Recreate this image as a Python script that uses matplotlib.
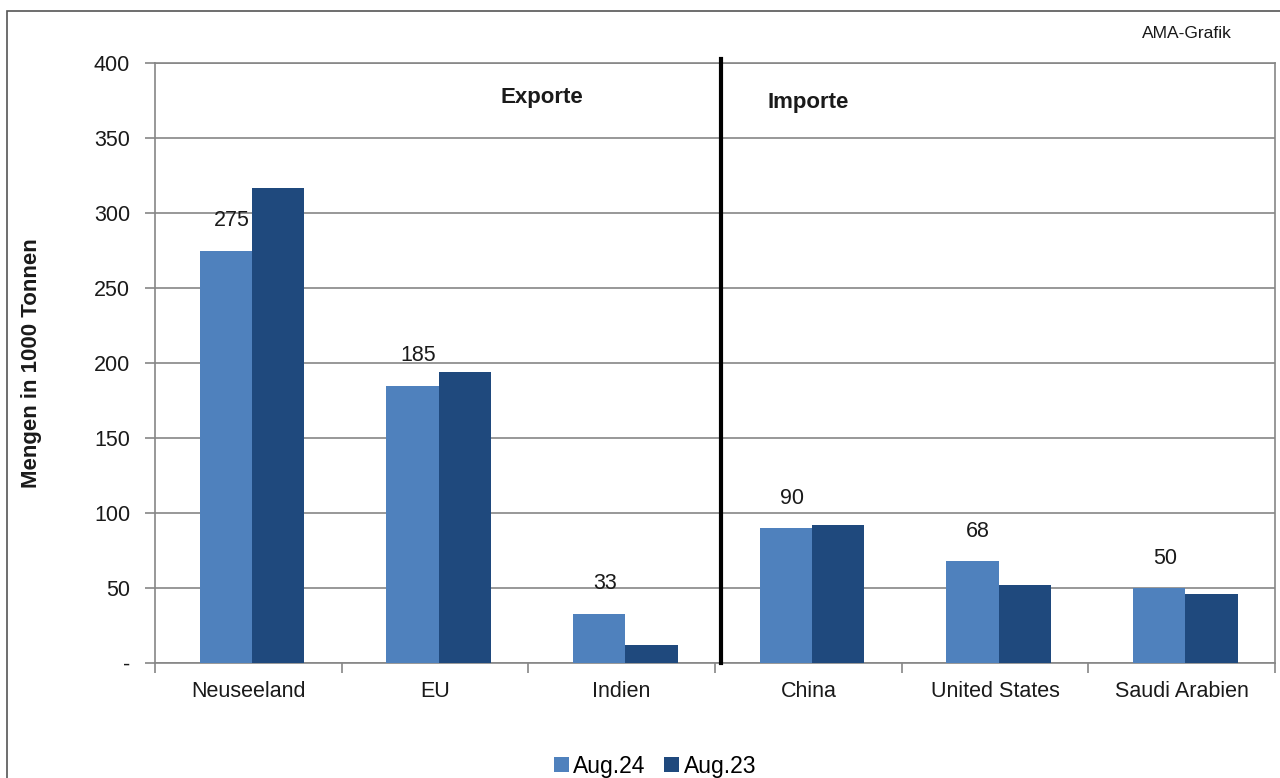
import numpy as np
import matplotlib.pyplot as plt
from matplotlib.patches import Rectangle

plt.rcParams['font.family'] = ['Liberation Sans', 'DejaVu Sans']

# data (1000 t)
laender = ["Neuseeland", "EU", "Indien", "China", "United States", "Saudi Arabien"]
aug24 = [275, 185, 33, 90, 68, 50]
aug23 = [317, 194, 12, 92, 52, 46]
serien = ["Aug.24", "Aug.23"]
y_ticks = [0, 50, 100, 150, 200, 250, 300, 350, 400]
y_tick_labels = ["-", "50", "100", "150", "200", "250", "300", "350", "400"]

hell = "#4F81BD"
dunkel = "#1F497D"
grau = "#868686"
text_farbe = "#1a1a1a"

fig = plt.figure(figsize=(12.8, 7.78), dpi=100)
ax = fig.add_axes([155 / 1280, 1 - 663 / 778, 1120 / 1280, 600 / 778])

# outer chart frame
fig.patches.append(Rectangle((7 / 1280, -0.05), 1.2, 1 - 11 / 778 + 0.05,
                             transform=fig.transFigure, fill=False,
                             edgecolor="#555555", linewidth=1.2))

x = np.arange(len(laender)) + 0.02
b = 0.28
bars24 = ax.bar(x - b / 2, aug24, b, color=hell, label=serien[0], zorder=3)
bars23 = ax.bar(x + b / 2, aug23, b, color=dunkel, label=serien[1], zorder=3)

for rect, val in zip(bars24, aug24):
    ax.annotate(str(val), (rect.get_x() + rect.get_width() / 2 + 0.03, rect.get_height()),
                xytext=(0, 14), textcoords="offset points", ha="center", va="bottom",
                fontsize=15.5, color=text_farbe)

ax.set_xlim(-0.5, len(laender) - 0.5)
ax.set_ylim(0, 400)
ax.set_yticks(y_ticks)
ax.set_yticklabels(y_tick_labels)
ax.yaxis.grid(True, color=grau, linewidth=1.2, zorder=0)

ax.set_xticks(np.arange(len(laender)))
ax.set_xticklabels(laender)
ax.set_xticks(np.arange(len(laender) + 1) - 0.5, minor=True)
ax.tick_params(axis="x", which="major", length=0, pad=13, labelsize=15.5, labelcolor=text_farbe)
ax.tick_params(axis="x", which="minor", length=7, color=grau, width=1.2)
ax.tick_params(axis="y", length=7, color=grau, width=1.2, pad=11, labelsize=15.5, labelcolor=text_farbe)

for s in ax.spines.values():
    s.set_color(grau)
    s.set_linewidth(1.2)

ax.set_ylabel("Mengen in 1000 Tonnen", fontsize=16, fontweight="bold", labelpad=37,
              color=text_farbe)

# separator between exports and imports
ax.axvline(2.5 + 0.03, ymin=0, ymax=1.006, color="black", linewidth=3, clip_on=False, zorder=4)
ax.text(1.57, 377, "Exporte", ha="center", va="center", fontsize=16, fontweight="bold",
        color=text_farbe)
ax.text(3.0, 374, "Importe", ha="center", va="center", fontsize=16, fontweight="bold",
        color=text_farbe)

fig.text(1187 / 1280, 1 - 34 / 778, "AMA-Grafik", ha="center", va="center", fontsize=12.5,
         color=text_farbe)

fig.legend(loc="center", bbox_to_anchor=(655 / 1280, 1 - 766 / 778), ncol=2,
           frameon=False, fontsize=16.5, handlelength=0.65, handleheight=0.65,
           handletextpad=0.2, columnspacing=0.8, borderaxespad=0)

fig.savefig("out.png", dpi=100)
